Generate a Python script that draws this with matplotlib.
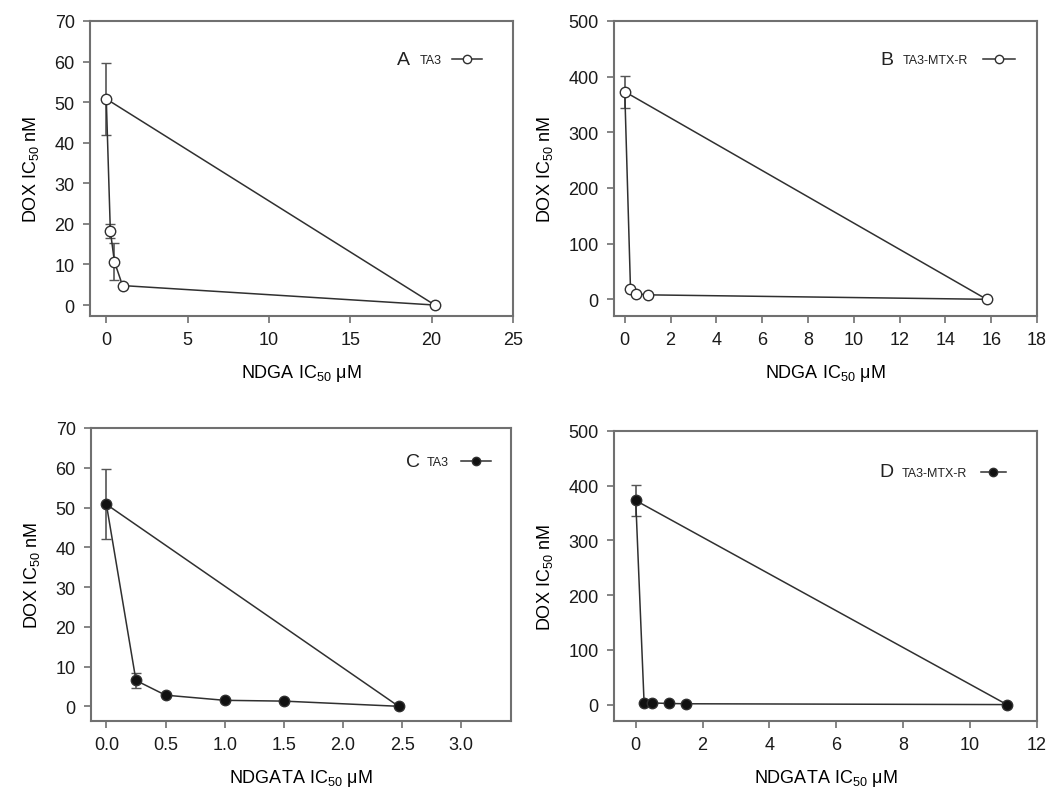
import matplotlib
matplotlib.use('Agg')
import matplotlib.pyplot as plt

plt.rcParams['font.family'] = ['Liberation Sans', 'DejaVu Sans']
plt.rcParams['mathtext.fontset'] = 'custom'
plt.rcParams['mathtext.rm'] = 'Liberation Sans'
plt.rcParams['mathtext.it'] = 'Liberation Sans:italic'

# panel A: NDGA, TA3
a_x = [0, 0.25, 0.5, 1.0, 20.2]
a_y = [50.8, 18.3, 10.7, 4.8, 0]
a_err = [8.8, 1.7, 4.6, 0, 0]

# panel B: NDGA, TA3-MTX-R
b_x = [0, 0.25, 0.5, 1.0, 15.8]
b_y = [373, 19, 10, 8, 0]
b_err = [29, 0, 0, 0, 0]

# panel C: NDGATA, TA3
c_x = [0, 0.25, 0.5, 1.0, 1.5, 2.47]
c_y = [50.8, 6.5, 2.8, 1.5, 1.3, 0]
c_err = [8.8, 1.9, 0, 0, 0, 0]

# panel D: NDGATA, TA3-MTX-R
d_x = [0, 0.25, 0.5, 1.0, 1.5, 11.1]
d_y = [373, 3, 3, 2, 1.5, 0]
d_err = [29, 0, 0, 0, 0, 0]

spine_c = '#707070'
line_c = '#303030'

fig = plt.figure(figsize=(10.47, 8.03), dpi=100)

W, H = 1047, 803
def box(l, r, t, b):
    return [l / W, 1 - b / H, (r - l) / W, (b - t) / H]

panels = [
    (box(90, 513, 22, 317), a_x, a_y, a_err, 'none', 'A', 'TA3', 'NDGA',
     (-1.0, 25), [0, 5, 10, 15, 20, 25], None, (-2.7, 70), range(0, 71, 10),
     (0.74, 0.871), 0.78, (0.856, 0.927)),
    (box(614, 1037, 22, 317), b_x, b_y, b_err, 'none', 'B', 'TA3-MTX-R', 'NDGA',
     (-0.47, 18), range(0, 19, 2), None, (-30, 500), range(0, 501, 100),
     (0.645, 0.871), 0.683, (0.872, 0.948)),
    (box(91, 511, 429, 722), c_x, c_y, c_err, '#111111', 'C', 'TA3', 'NDGATA',
     (-0.13, 3.42), [0, 0.5, 1.0, 1.5, 2.0, 2.5, 3.0],
     ['0.0', '0.5', '1.0', '1.5', '2.0', '2.5', '3.0'], (-3.7, 70), range(0, 71, 10),
     (0.766, 0.887), 0.8, (0.88, 0.952)),
    (box(614, 1037, 432, 722), d_x, d_y, d_err, '#111111', 'D', 'TA3-MTX-R', 'NDGATA',
     (-0.65, 12), range(0, 13, 2), None, (-30, 500), range(0, 501, 100),
     (0.645, 0.86), 0.68, (0.867, 0.926)),
]

for (rect, xs, ys, errs, face, letter, cell, drug, xlim, xt, xtl, ylim, yt,
     lpos, tx, lline) in panels:
    ax = fig.add_axes(rect)
    # isobole connecting the two single-drug IC50s
    ax.plot([xs[0], xs[-1]], [ys[0], ys[-1]], color=line_c, lw=1.1, zorder=2)
    ax.errorbar(xs, ys, yerr=errs, color=line_c, lw=1.1, marker='o', ms=7.5,
                mfc=face if face != 'none' else 'white', mec=line_c, mew=1.0,
                ecolor='#555555', elinewidth=1.2, capsize=3.5, capthick=1.2, zorder=3)
    ax.set_xlim(*xlim)
    ax.set_ylim(*ylim)
    ax.set_xticks(list(xt))
    if xtl:
        ax.set_xticklabels(xtl)
    ax.set_yticks(list(yt))
    for s in ax.spines.values():
        s.set_color(spine_c)
        s.set_linewidth(1.5)
    ax.tick_params(direction='out', length=5, width=1.2, color=spine_c,
                   labelsize=13, pad=6, labelcolor='#1a1a1a')
    ax.set_xlabel(drug + r' IC$_{50}$ $\mathregular{\mu}$M', fontsize=13, labelpad=10)
    ax.set_ylabel(r'DOX IC$_{50}$ nM', fontsize=13, labelpad=10)
    # legend-like label
    ax.text(lpos[0], lpos[1], letter, transform=ax.transAxes, fontsize=14,
            ha='center', va='center', color='#222222')
    ax.text(tx, lpos[1] - 0.004, cell, transform=ax.transAxes, fontsize=9,
            ha='left', va='center', color='#222222')
    ax.plot(lline, [lpos[1], lpos[1]], transform=ax.transAxes, color=line_c, lw=1.1)
    ax.plot([(lline[0] + lline[1]) / 2], [lpos[1]], transform=ax.transAxes,
            marker='o', ms=6, mfc='white' if face == 'none' else face,
            mec=line_c, mew=1.0)

fig.savefig('out.png', dpi=100)
